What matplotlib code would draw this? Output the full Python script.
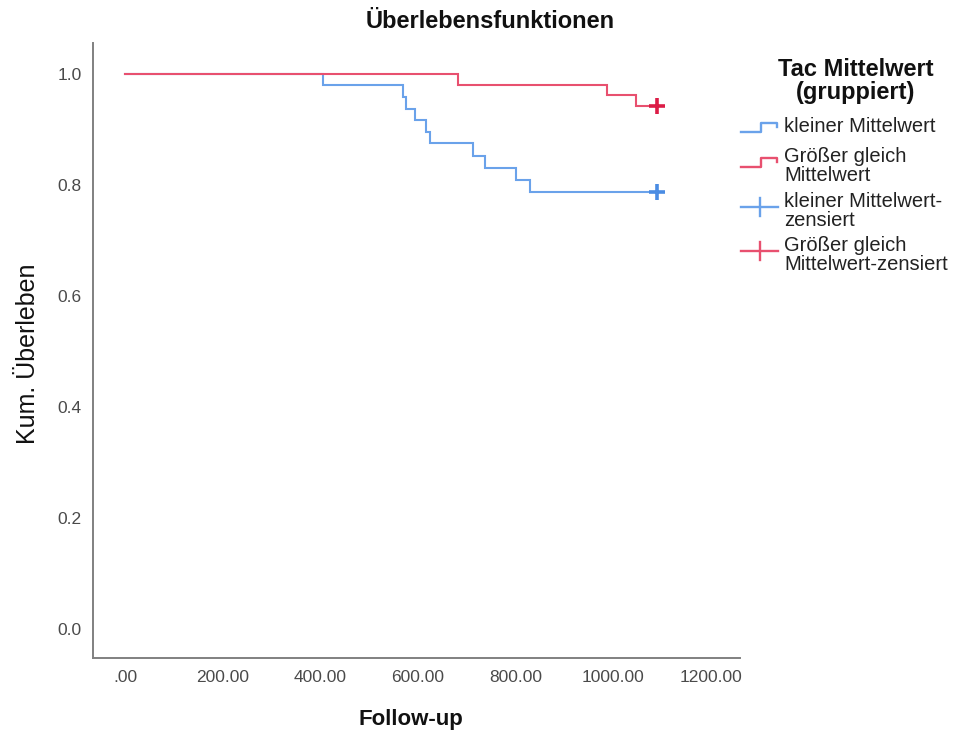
import matplotlib
matplotlib.use("Agg")
import matplotlib.pyplot as plt
from matplotlib.lines import Line2D

plt.rcParams['font.family'] = ['Liberation Sans', 'DejaVu Sans']

# Kaplan-Meier estimates per group (event times and survival after each event)
low_times = [0, 405, 569, 575, 594, 617, 624, 712, 738, 800, 829]
low_surv = [1.0, 0.981, 0.959, 0.937, 0.917, 0.896, 0.875, 0.852, 0.830, 0.810, 0.787]
low_censor_time = [1090]
low_censor_surv = [0.787]

high_times = [0, 682, 986, 1047]
high_surv = [1.0, 0.981, 0.962, 0.943]
high_censor_time = [1090]
high_censor_surv = [0.943]

x_ticks = [0, 200, 400, 600, 800, 1000, 1200]
x_tick_labels = [".00", "200.00", "400.00", "600.00", "800.00", "1000.00", "1200.00"]
y_ticks = [0.0, 0.2, 0.4, 0.6, 0.8, 1.0]
y_tick_labels = ["0.0", "0.2", "0.4", "0.6", "0.8", "1.0"]

legend_title = "Tac Mittelwert\n(gruppiert)"
legend_labels = ["kleiner Mittelwert", "Größer gleich\nMittelwert",
                 "kleiner Mittelwert-\nzensiert", "Größer gleich\nMittelwert-zensiert"]

BLUE = "#6aa2ea"
BLUE_DARK = "#4a8ce3"
RED = "#e8506f"
RED_DARK = "#dc1c46"

W, H = 957, 733
fig = plt.figure(figsize=(W / 100, H / 100), dpi=100)
fig.patch.set_facecolor("white")

left, right, top, bottom = 93, 740, 43, 658
ax = fig.add_axes([left / W, 1 - bottom / H, (right - left) / W, (bottom - top) / H])


def km_step(ax, times, surv, end_time, color):
    xs = list(times) + [end_time]
    ys = list(surv) + [surv[-1]]
    ax.step(xs, ys, where="post", color=color, lw=1.5, solid_joinstyle="miter")


km_step(ax, low_times, low_surv, low_censor_time[-1], BLUE)
km_step(ax, high_times, high_surv, high_censor_time[-1], RED)
ax.plot(low_censor_time, low_censor_surv, ls="none", marker="+", ms=11, mew=2.6, color=BLUE_DARK)
ax.plot(high_censor_time, high_censor_surv, ls="none", marker="+", ms=11, mew=2.6, color=RED_DARK)

ax.set_xlim(-65.5, 1259)
ax.set_ylim(-0.052, 1.056)
ax.set_xticks(x_ticks)
ax.set_xticklabels(x_tick_labels)
ax.set_yticks(y_ticks)
ax.set_yticklabels(y_tick_labels)
ax.tick_params(axis="both", length=0, labelsize=12.5, labelcolor="#4a4a4a")
ax.tick_params(axis="x", pad=9)
ax.tick_params(axis="y", pad=8)
for side in ("top", "right"):
    ax.spines[side].set_visible(False)
for side in ("left", "bottom"):
    ax.spines[side].set_color("#808080")
    ax.spines[side].set_linewidth(1.4)

# titles and axis labels
fig.text(490 / W, 1 - 22 / H, "Überlebensfunktionen", ha="center", va="center",
         fontsize=17, fontweight="bold", color="#111111")
fig.text(411 / W, 1 - 719 / H, "Follow-up", ha="center", va="center",
         fontsize=16, fontweight="bold", color="#111111")
fig.text(28 / W, 1 - 354 / H, "Kum. Überleben", ha="center", va="center",
         rotation=90, fontsize=18, color="#111111")

# legend drawn on a pixel-coordinate overlay
lg = fig.add_axes([0, 0, 1, 1])
lg.set_xlim(0, W)
lg.set_ylim(H, 0)
lg.axis("off")

lg.text(856, 81, legend_title, ha="center", va="center", fontsize=17,
        fontweight="bold", linespacing=1.0, color="#111111")


def step_icon(y, color):
    xs = [741, 761, 761, 777, 777]
    ys = [y + 5, y + 5, y - 4, y - 4, y]
    lg.add_line(Line2D(xs, ys, color=color, lw=1.7))


def censor_icon(y, color):
    lg.add_line(Line2D([741, 778], [y, y], color=color, lw=1.7))
    lg.add_line(Line2D([759.5, 759.5], [y - 9, y + 9], color=color, lw=1.7))


step_icon(127, BLUE)
step_icon(162, RED)
censor_icon(207, BLUE)
censor_icon(251, RED)

text_y = [127, 166, 211, 255]
for ty, lab in zip(text_y, legend_labels):
    lg.text(784, ty, lab, ha="left", va="center", fontsize=14.5,
            linespacing=0.95, color="#222222")

fig.savefig("out.png", dpi=100, facecolor="white")
